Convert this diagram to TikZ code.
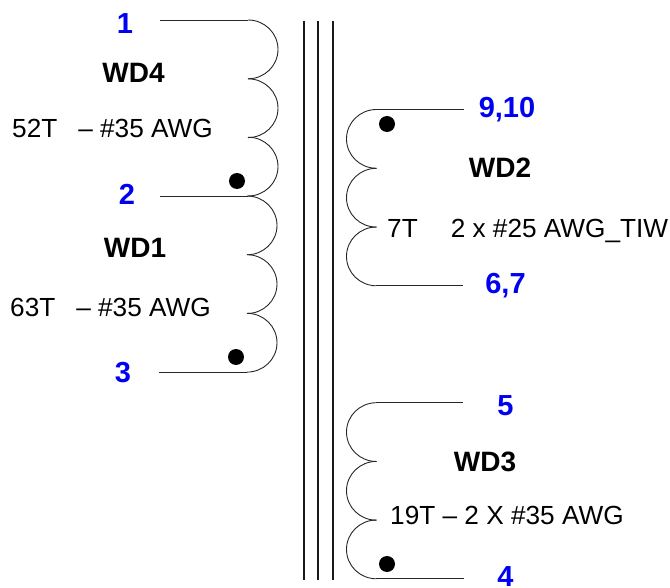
\documentclass[tikz,border=0pt]{standalone}
\usepackage{fontspec}
\setmainfont{Liberation Sans}
\tikzset{
  wire/.style={line width=0.9pt,black!85},
  corebar/.style={line width=1.7pt,black!90},
  dotmark/.style={circle,fill=black,inner sep=0pt,minimum size=16pt},
  pin/.style={font=\fontsize{29}{32}\selectfont\bfseries,text=blue!95!black,inner sep=0pt,anchor=base},
  wdname/.style={font=\fontsize{28}{32}\selectfont\bfseries,inner sep=0pt,anchor=base},
  spec/.style={font=\fontsize{26.2}{30}\selectfont,inner sep=0pt,anchor=base west},
  bumpR/.pic={\draw[wire] (0,0) .. controls (16.5,0) and (30,13) .. (30,29.4) .. controls (30,45.8) and (16.5,58.8) .. (0,58.8);},
  bumpL/.pic={\draw[wire] (0,0) .. controls (-16.5,0) and (-30,13) .. (-30,29.4) .. controls (-30,45.8) and (-16.5,58.8) .. (0,58.8);}
}
\begin{document}
\begin{tikzpicture}[x=1pt,y=-1pt]
\useasboundingbox (0,0) rectangle (670,588);
% core
\foreach \cx in {304,318,333}{\draw[corebar] (\cx,21) -- (\cx,580);}
% left windings
\coordinate (p1) at (160,20);
\coordinate (c1) at (248,20);
\coordinate (p2) at (160,196);
\coordinate (c2) at (248,196);
\coordinate (p3) at (159,372);
\coordinate (c3) at (247,372);
\draw[wire] (p1) -- (c1);
\draw[wire] (p2) -- (c2);
\draw[wire] (p3) -- (c3);
\foreach \by in {20,78.8,137.2}{\pic at (248,\by) {bumpR};}
\foreach \by in {196,254.7,313.3}{\pic at (247,\by) {bumpR};}
% right windings
\coordinate (p9) at (464,109.5);
\coordinate (c9) at (376,109.5);
\coordinate (p6) at (463,285.7);
\coordinate (c6) at (376,285.7);
\coordinate (p5) at (463,402.7);
\coordinate (c5) at (376,402.7);
\coordinate (p4) at (464,578.7);
\coordinate (c4) at (376,578.7);
\draw[wire] (p9) -- (c9);
\draw[wire] (p6) -- (c6);
\draw[wire] (p5) -- (c5);
\draw[wire] (p4) -- (c4);
\foreach \by in {109.5,168.3,227}{\pic at (376.5,\by) {bumpL};}
\foreach \by in {402.7,461.4,520}{\pic at (376.5,\by) {bumpL};}
% dots
\node[dotmark] (d4) at (237,181) {};
\node[dotmark] (d1) at (236,357) {};
\node[dotmark] (d2) at (387,124) {};
\node[dotmark] (d3) at (387,564) {};
% pin labels
\node[pin] (n1) at (125,34) {1};
\node[pin] (n2) at (127,205) {2};
\node[pin] (n3) at (123,382) {3};
\node[pin] (n9) at (507,118) {9,10};
\node[pin] (n6) at (505.5,294) {6,7};
\node[pin] (n5) at (505.5,415) {5};
\node[pin] (n4) at (505.5,586) {4};
% winding names
\node[wdname] (w4) at (133.5,83) {WD4};
\node[wdname] (w1) at (135,258) {WD1};
\node[wdname] (w2) at (500,178) {WD2};
\node[wdname] (w3) at (485,471) {WD3};
% specs
\node[spec] (s4) at (12,138) {52T\hspace{21pt}– \#35 AWG};
\node[spec] (s1) at (10,317) {63T\hspace{21pt}– \#35 AWG};
\node[spec] (s2) at (387,238) {7T\hspace{33pt}2 x \#25 AWG\_TIW};
\node[spec] (s3) at (390,524) {19T – 2 X \#35 AWG};
\end{tikzpicture}
\end{document}
